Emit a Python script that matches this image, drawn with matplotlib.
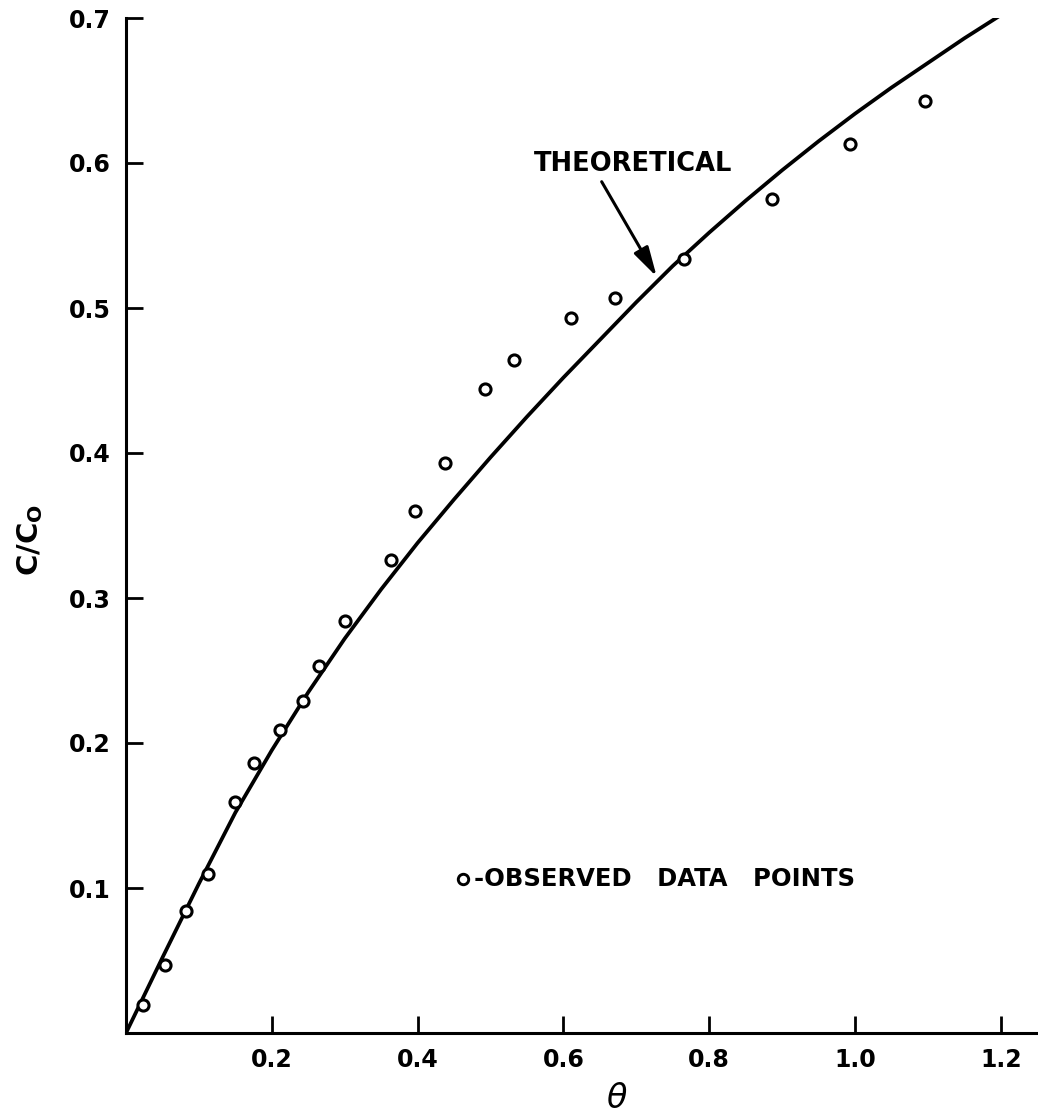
import matplotlib
matplotlib.use("Agg")
import matplotlib.pyplot as plt

plt.rcParams['font.family'] = ['DejaVu Sans']

# Observed data points (theta, c/c0)
obs_theta = [0.024, 0.053, 0.082, 0.113, 0.149, 0.176, 0.211, 0.243, 0.265,
             0.300, 0.363, 0.397, 0.437, 0.493, 0.532, 0.611, 0.671, 0.765,
             0.886, 0.993, 1.096]
obs_c = [0.019, 0.047, 0.084, 0.110, 0.159, 0.186, 0.209, 0.229, 0.253,
         0.284, 0.326, 0.360, 0.393, 0.444, 0.464, 0.493, 0.507, 0.534,
         0.575, 0.613, 0.643]

# Theoretical curve, points
th_theta = [0.0, 0.05, 0.10, 0.15, 0.20, 0.25, 0.30, 0.35, 0.40, 0.45, 0.50,
            0.55, 0.60, 0.65, 0.70, 0.75, 0.80, 0.85, 0.90, 0.95, 1.00,
            1.05, 1.10, 1.15, 1.20]
th_c = [0.0, 0.052, 0.103, 0.152, 0.195, 0.235, 0.272, 0.306, 0.338, 0.368,
        0.397, 0.425, 0.452, 0.478, 0.504, 0.529, 0.552, 0.574, 0.595,
        0.615, 0.634, 0.652, 0.669, 0.686, 0.702]

xticks = [0.2, 0.4, 0.6, 0.8, 1.0, 1.2]
xticklabels = ["0.2", "0.4", "0.6", "0.8", "1.0", "1.2"]
yticks = [0.1, 0.2, 0.3, 0.4, 0.5, 0.6, 0.7]
yticklabels = ["0.1", "0.2", "0.3", "0.4", "0.5", "0.6", "0.7"]

W, H = 1038, 1117
fig = plt.figure(figsize=(W / 100, H / 100), dpi=100)
x0, x1 = 126, 1038
yb, yt = 1033, 18
ax = fig.add_axes([x0 / W, (H - yb) / H, (x1 - x0) / W, (yb - yt) / H])

ax.plot(th_theta, th_c, color='black', lw=2.7, solid_capstyle='round',
        solid_joinstyle='round', zorder=2)
ax.plot(obs_theta, obs_c, linestyle='none', marker='o', markersize=8,
        markerfacecolor='white', markeredgecolor='black', markeredgewidth=2.2,
        zorder=3)

ax.set_xlim(0, (x1 - x0) / 729.0)
ax.set_ylim(0, 0.7)

for s in ['top', 'right']:
    ax.spines[s].set_visible(False)
for s in ['left', 'bottom']:
    ax.spines[s].set_linewidth(2.2)

ax.set_xticks(xticks)
ax.set_xticklabels(xticklabels)
ax.set_yticks(yticks)
ax.set_yticklabels(yticklabels)
ax.tick_params(axis='both', direction='in', length=12, width=2.0,
               labelsize=17)
ax.tick_params(axis='x', pad=11)
ax.tick_params(axis='y', pad=11)
for lab in ax.get_xticklabels() + ax.get_yticklabels():
    lab.set_fontweight('bold')

fig.text(617 / W, 1 - 1098 / H, r"$\theta$", fontsize=24, ha='center',
         va='center')
fig.text(30 / W, 1 - 540 / H, r"C/C$_\mathregular{O}$", fontsize=21,
         fontweight='bold', rotation=90, ha='center', va='center')

# THEORETICAL label with arrow
ax.text(0.6955, 0.599, "THEORETICAL", ha='center', va='center',
        fontsize=18.5, fontweight='bold')
ax.annotate("", xy=(0.728, 0.5216), xytext=(0.6525, 0.5871),
            textcoords='data',
            arrowprops=dict(arrowstyle='-|>,head_length=1.0,head_width=0.27',
                            color='black', lw=2.2, shrinkA=0, shrinkB=0,
                            mutation_scale=18))

# Key for observed points
ax.plot([0.462], [0.1062], linestyle='none', marker='o', markersize=7.5,
        markerfacecolor='white', markeredgecolor='black', markeredgewidth=2.1,
        clip_on=False)
ax.text(0.477, 0.1062, "-OBSERVED   DATA   POINTS", ha='left', va='center',
        fontsize=17.5, fontweight='bold')

fig.savefig("out.png", dpi=100, facecolor='white')
